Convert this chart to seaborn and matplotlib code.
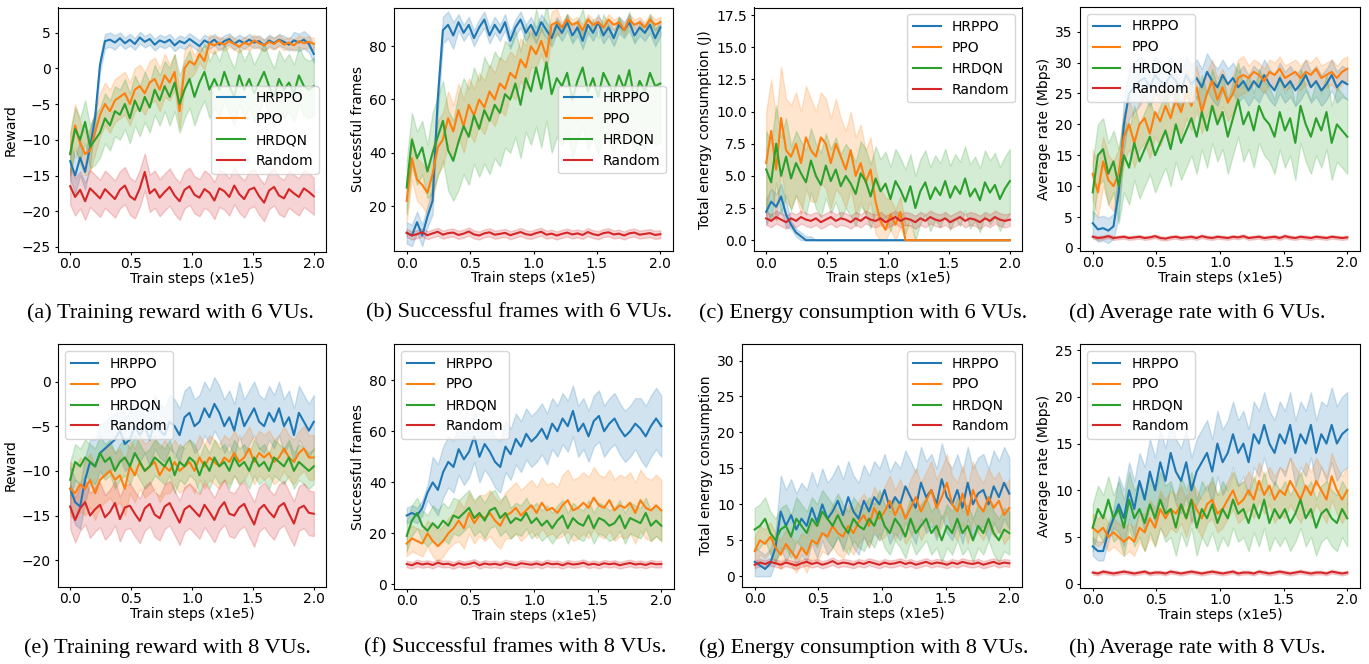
import numpy as np
import pandas as pd
import matplotlib.pyplot as plt
import seaborn as sns

# training steps (x1e5), 50 logged points per curve
steps = np.linspace(0, 2, 50)
algos = ['HRPPO', 'PPO', 'HRDQN', 'Random']
colors = sns.color_palette('tab10', 4)

# ---------------- (a) training reward, 6 VUs ----------------
a_hrppo = [-13, -15, -12.5, -14.5, -11, -7, 0.5, 3.8, 4.0, 3.6,
           4.2, 3.5, 4.0, 3.4, 4.3, 3.7, 4.1, 3.3, 3.9, 3.6,
           4.0, 3.2, 3.8, 3.5, 4.1, 3.6, 3.1, 3.9, 3.5, 4.0,
           3.3, 3.8, 4.1, 3.4, 3.9, 3.5, 4.0, 3.6, 3.8, 3.2,
           3.9, 3.5, 4.0, 3.7, 3.3, 3.9, 3.6, 4.0, 3.4, 2.0]
a_ppo = [-12, -8, -10.5, -12, -11.5, -9, -6.5, -5, -6, -4.5,
         -4, -3.5, -5, -3, -2.5, -3.5, -2, -1.5, -3, -1,
         -2, -0.5, -6, 0, 1, 0.5, 2, 1, 3.5, 3.2,
         3.6, 3.3, 3.8, 3.4, 3.0, 3.6, 3.3, 3.9, 3.5, 3.2,
         3.7, 3.4, 3.9, 3.3, 3.6, 3.2, 3.8, 3.5, 3.7, 3.4]
a_hrdqn = [-12, -8.5, -10, -7.5, -11, -10, -9, -7, -8, -6,
           -6.5, -5, -7, -4.5, -6, -4, -5.5, -3, -4.5, -2.5,
           -4, -2, -5, -3, -1.5, -4, -2, -0.5, -3, -1.5,
           -3, -0.5, -2.5, -4, -1, -3, -1.5, -3.5, -2, -0.5,
           -2.5, -4, -1.5, -3, -2, -3.5, -1, -2.5, -3, -2.5]
a_random = [-16.5, -18.0, -17.0, -18.6, -16.8, -17.5, -18.2, -16.9, -17.6, -18.3,
            -17.0, -16.4, -17.9, -18.4, -16.8, -14.5, -17.5, -16.9, -18.1, -17.3,
            -16.6, -17.8, -18.6, -17.0, -16.5, -17.7, -18.1, -16.9, -17.4, -18.5,
            -16.8, -17.2, -18.0, -16.4, -17.6, -18.3, -17.0, -16.7, -17.9, -18.8,
            -17.1, -16.6, -17.8, -18.2, -16.9, -17.5, -18.0, -16.8, -17.3, -17.9]
a_spread = [[2.5, 1.0, 0.8, 0.8, 0.8, 0.8, 0.8, 0.8, 0.8, 1.2],
            [3, 3, 3, 3, 2.5, 1.2, 0.8, 0.8, 0.8, 0.8],
            [3, 3.5, 3.5, 3.5, 4, 4, 4, 4, 4, 4],
            [2.6] * 10]

# ---------------- (b) successful frames, 6 VUs ----------------
b_hrppo = [10, 9, 14, 9, 16, 22, 60, 86, 88, 84,
           89, 85, 88, 83, 87, 90, 84, 88, 85, 89,
           82, 87, 90, 85, 88, 84, 89, 86, 83, 88,
           85, 89, 84, 87, 82, 88, 85, 89, 84, 87,
           83, 88, 86, 89, 84, 87, 85, 88, 83, 87]
b_ppo = [22, 38, 30, 28, 25, 32, 42, 45, 53, 48,
         56, 50, 58, 54, 60, 57, 63, 60, 66, 64,
         70, 68, 75, 72, 80, 77, 82, 76, 88, 89,
         87, 90, 88, 89, 86, 90, 88, 89, 87, 90,
         88, 89, 86, 90, 88, 89, 87, 90, 88, 89]
b_hrdqn = [27, 45, 38, 42, 33, 40, 46, 52, 41, 37,
           44, 50, 46, 54, 49, 56, 52, 58, 55, 62,
           60, 66, 58, 68, 63, 72, 64, 74, 62, 68,
           65, 70, 60, 67, 72, 63, 68, 61, 70, 66,
           62, 69, 64, 71, 60, 67, 63, 70, 65, 66]
b_random = [10.0, 9.0, 9.5, 10.2, 9.1, 9.8, 10.4, 9.3, 9.9, 10.1,
            9.2, 9.7, 10.5, 9.4, 9.0, 9.8, 10.2, 9.3, 9.6, 10.0,
            9.1, 9.7, 10.3, 9.5, 9.2, 9.9, 10.4, 9.3, 9.7, 9.0,
            9.6, 10.1, 9.4, 9.8, 9.2, 10.3, 9.5, 9.1, 9.9, 10.2,
            9.4, 9.7, 9.0, 9.8, 10.1, 9.3, 9.6, 9.9, 9.2, 9.5]
b_spread = [[4, 5, 3, 3, 3, 3, 3, 3, 3, 3],
            [8, 10, 10, 10, 8, 5, 2, 2, 2, 2],
            [10, 15, 18, 20, 20, 22, 22, 22, 22, 22],
            [1.5] * 10]

# ---------------- (c) energy consumption, 6 VUs ----------------
c_hrppo = [2.2, 3.0, 2.6, 3.4, 2.0, 1.2, 0.6, 0.3, 0, 0,
           0, 0, 0, 0, 0, 0, 0, 0, 0, 0,
           0, 0, 0, 0, 0, 0, 0, 0, 0, 0,
           0, 0, 0, 0, 0, 0, 0, 0, 0, 0,
           0, 0, 0, 0, 0, 0, 0, 0, 0, 0]
c_ppo = [6, 8.5, 5.5, 9.5, 7, 6.5, 7.5, 6, 8, 7,
         6.5, 8, 7.5, 6, 7.5, 6.5, 5.5, 7, 5, 6,
         4.5, 5.5, 3, 1.5, 0.8, 2, 1.2, 2.2, 0, 0,
         0, 0, 0, 0, 0, 0, 0, 0, 0, 0,
         0, 0, 0, 0, 0, 0, 0, 0, 0, 0]
c_hrdqn = [5.5, 4.5, 7.5, 5, 6.5, 4.8, 6, 5.2, 4.5, 6.2,
           5, 4.3, 5.8, 4.6, 5.5, 4.2, 5, 4.4, 3.6, 5.2,
           4.6, 3.4, 4.8, 3.8, 4.4, 3.2, 4.6, 3.9, 3.0, 4.2,
           2.5, 3.8, 4.5, 3.2, 4.1, 3.5, 4.6, 3.3, 4.2, 3.6,
           4.8, 3.4, 4.0, 3.1, 4.5, 3.7, 4.3, 3.2, 4.0, 4.6]
c_random = [1.7, 1.5, 1.8, 1.6, 1.4, 1.7, 1.5, 1.8, 1.6, 1.5,
            1.7, 1.4, 1.6, 1.8, 1.5, 1.7, 1.6, 1.4, 1.7, 1.5,
            1.8, 1.6, 1.5, 1.7, 1.4, 1.6, 1.8, 1.5, 1.7, 1.6,
            1.4, 1.7, 1.5, 1.8, 1.6, 1.5, 1.7, 1.4, 1.6, 1.8,
            1.5, 1.7, 1.6, 1.4, 1.7, 1.5, 1.8, 1.6, 1.5, 1.6]
c_spread = [[1.0, 0.3, 0, 0, 0, 0, 0, 0, 0, 0],
            [4, 4, 3.5, 3, 2.5, 1.2, 0, 0, 0, 0],
            [3, 2.5, 2.5, 2.5, 2.5, 2.5, 2.5, 2.5, 2.5, 2.5],
            [0.5] * 10]

# ---------------- (d) average rate, 6 VUs ----------------
d_hrppo = [4, 3, 3.2, 2.8, 3.5, 9, 20, 25, 26, 27,
           27.5, 26, 28, 27, 26.5, 28, 27, 25.5, 28, 26.5,
           27.5, 26, 28.5, 27, 26, 28, 26.5, 27.5, 26, 27,
           25.5, 27, 26, 28, 26.5, 25.5, 27.5, 26, 27, 25.5,
           26.5, 28, 26, 27, 25.5, 26.5, 28, 26, 27, 26.5]
d_ppo = [12, 9, 14, 11, 10, 12, 18, 20, 17, 20,
         21, 18.5, 22, 20.5, 23, 21, 24, 22, 25, 23,
         26, 22, 25, 27, 24, 26, 23.5, 25, 27.5, 28,
         27.5, 28.5, 28, 27, 28.5, 28, 29, 27.5, 28, 28.5,
         27.5, 28.5, 28, 29, 27.5, 28, 28.5, 27.5, 28.5, 29]
d_hrdqn = [9, 15, 16, 12, 14, 10, 15, 13, 17, 14,
           16, 18, 15, 17, 19, 16, 20, 17, 19, 21,
           18, 22, 19, 23, 20, 22, 18, 21, 24, 20,
           22, 19, 23, 21, 20, 18, 22, 19, 21, 17,
           23, 20, 18, 21, 19, 22, 17, 20, 19, 18]
d_random = [1.8, 1.6, 1.7, 1.9, 1.6, 1.7, 1.8, 1.6, 1.7, 1.8,
            1.6, 1.7, 1.9, 1.6, 1.5, 1.7, 1.8, 1.6, 1.7, 1.8,
            1.6, 1.9, 1.7, 1.6, 1.8, 1.7, 1.6, 1.8, 1.7, 1.9,
            1.6, 1.7, 1.8, 1.6, 1.7, 1.8, 1.6, 1.9, 1.7, 1.6,
            1.8, 1.7, 1.6, 1.8, 1.7, 1.6, 1.8, 1.7, 1.6, 1.7]
d_spread = [[2, 4, 3, 3, 3, 2.5, 2.5, 2.5, 2.5, 2.5],
            [4, 4, 4, 4, 3.5, 3, 2, 2, 2, 2],
            [5, 6, 6, 6, 6, 6, 6, 6, 6, 6],
            [0.3] * 10]

# ---------------- (e) training reward, 8 VUs ----------------
e_hrppo = [-12, -13.5, -14, -11, -9, -9.5, -8, -7.5, -7, -6.5,
           -5.5, -7, -6.5, -5, -6, -5, -6.5, -4.5, -5.5, -6,
           -4.5, -5, -6, -4, -3.5, -5, -4.5, -3, -4, -2.5,
           -3.5, -5, -4, -5.5, -3, -5, -4, -3, -4.5, -5,
           -3.5, -4.5, -3, -5, -4, -6, -3.5, -4.5, -5.5, -4.5]
e_ppo = [-12, -12.5, -11.5, -12, -11, -12.5, -11, -10.5, -10, -11,
         -10.5, -12, -9.5, -10.5, -9, -10, -9.5, -9, -10.5, -9.5,
         -10, -9, -10, -9.5, -9, -10, -8.5, -9.5, -8.5, -9,
         -9.5, -8.5, -9, -8, -9, -8.5, -7.5, -9, -8, -8.5,
         -8, -9, -8.5, -7.5, -8.5, -9, -8, -7.5, -8.5, -8.5]
e_hrdqn = [-11, -9, -9.5, -8.5, -9, -9.5, -8, -9, -8.5, -10,
           -9, -8.5, -9.5, -8, -9, -10, -9.5, -8.5, -9, -9.5,
           -8.5, -10.5, -9, -9.5, -8.5, -9, -10.5, -9, -10, -8.5,
           -9.5, -9, -10, -8.5, -9.5, -9, -10, -8.5, -9.5, -9,
           -10, -8.5, -9, -9.5, -8.5, -10, -9, -9.5, -10, -9.5]
e_random = [-14.0, -15.5, -14.2, -13.5, -15.0, -14.3, -13.8, -15.2, -14.6, -13.6,
            -15.4, -14.1, -13.9, -14.8, -15.6, -14.2, -13.7, -14.9, -15.3, -14.0,
            -13.6, -14.7, -15.8, -14.3, -13.9, -14.5, -15.1, -13.8, -14.6, -15.5,
            -14.2, -13.5, -14.8, -15.0, -14.1, -13.7, -14.9, -16.0, -14.3, -13.8,
            -14.6, -15.2, -14.0, -13.6, -14.8, -15.9, -14.2, -13.9, -14.7, -14.8]
e_spread = [[2.5, 3, 3, 3, 3, 3, 3, 3, 3, 3],
            [3, 3, 3, 3, 2.5, 2.5, 2.5, 2.5, 2.5, 2.5],
            [2] * 10,
            [2.5] * 10]

# ---------------- (f) successful frames, 8 VUs ----------------
f_hrppo = [27, 28, 27, 30, 36, 40, 37, 44, 48, 46,
           53, 49, 52, 58, 50, 55, 52, 48, 46, 54,
           51, 57, 54, 59, 56, 58, 61, 57, 63, 60,
           65, 62, 68, 60, 63, 58, 64, 66, 60, 63,
           65, 61, 58, 60, 63, 61, 58, 62, 65, 62]
f_ppo = [16, 18, 17, 16, 20, 17, 15, 17, 20, 22,
         25, 22, 28, 24, 27, 26, 28, 25, 23, 27,
         28, 30, 27, 29, 31, 28, 32, 29, 30, 28,
         31, 33, 29, 30, 32, 30, 34, 31, 30, 33,
         29, 31, 30, 32, 28, 33, 30, 29, 31, 29]
f_hrdqn = [19, 25, 28, 23, 21, 24, 22, 25, 23, 27,
           26, 28, 30, 26, 28, 25, 29, 30, 26, 28,
           24, 26, 25, 28, 24, 26, 23, 25, 22, 25,
           27, 22, 26, 24, 23, 27, 22, 26, 25, 23,
           24, 27, 22, 26, 25, 24, 28, 23, 25, 23]
f_random = [8.0, 7.5, 8.4, 7.8, 8.2, 7.6, 8.5, 7.9, 8.1, 7.4,
            8.3, 7.7, 8.0, 8.6, 7.5, 8.2, 7.8, 8.1, 7.6, 8.4,
            7.9, 7.5, 8.3, 8.0, 7.7, 8.2, 7.6, 8.4, 7.9, 8.1,
            7.5, 8.3, 7.8, 8.0, 8.5, 7.7, 8.1, 7.6, 8.3, 7.9,
            8.2, 7.5, 8.0, 8.4, 7.8, 8.1, 7.6, 8.3, 7.9, 8.0]
f_spread = [[3, 10, 10, 10, 10, 10, 10, 10, 10, 12],
            [5, 6, 8, 9, 10, 10, 12, 12, 12, 12],
            [6, 7, 7, 7, 6, 6, 6, 6, 6, 6],
            [1.3] * 10]

# ---------------- (g) energy consumption, 8 VUs ----------------
g_hrppo = [2, 1.5, 1, 1.8, 4, 9, 7, 8.5, 6.5, 8,
           7, 9.5, 7.5, 10, 8, 9, 10.5, 8.5, 11, 9,
           8, 10.5, 9, 11, 10, 12, 9.5, 11, 10, 12.5,
           11, 9.5, 13, 11, 12, 10, 13.5, 11, 10, 12,
           9.5, 13, 10, 11.5, 12, 10, 12.5, 11, 13, 11.5]
g_ppo = [3.5, 5, 4.5, 5.5, 4, 3, 4.5, 3.5, 2.5, 4,
         3, 5, 4.5, 6, 5.5, 7, 6, 5.5, 7, 6,
         7.5, 8.5, 7, 9.5, 8, 9, 10.5, 8.5, 10, 8,
         9.5, 11, 9, 10.5, 12, 9.5, 11, 13, 10, 9,
         11.5, 8.5, 12, 10, 9, 11, 9.5, 10.5, 8.5, 9.5]
g_hrdqn = [6.5, 7, 8, 6, 5, 6.5, 7, 5.5, 8, 7,
           6, 8, 7, 9, 8, 7, 8.5, 7, 6, 8,
           7, 6.5, 8, 7, 9, 7, 6, 8, 7, 5.5,
           8, 6, 7, 8, 6, 7, 5, 7, 6, 8,
           6, 7, 5, 7, 6, 8, 6, 5, 6.5, 6]
g_random = [1.6, 1.9, 1.7, 2.0, 1.8, 1.6, 1.9, 1.7, 1.5, 1.8,
            2.0, 1.7, 1.9, 1.6, 1.8, 2.1, 1.7, 1.9, 1.8, 1.6,
            1.9, 1.7, 2.0, 1.8, 1.6, 1.9, 1.7, 1.8, 2.0, 1.7,
            1.9, 1.6, 1.8, 2.0, 1.7, 1.9, 1.8, 1.6, 1.9, 1.7,
            2.0, 1.8, 1.7, 1.9, 1.6, 1.8, 2.0, 1.7, 1.9, 1.8]
g_spread = [[2, 5, 5, 5, 5, 5, 5, 5, 5, 5],
            [2, 2, 2.5, 3, 3, 3.5, 4, 4, 4, 4],
            [3] * 10,
            [0.5] * 10]

# ---------------- (h) average rate, 8 VUs ----------------
h_hrppo = [4, 3.5, 3.5, 5.5, 7, 8.5, 7, 10, 8, 11,
           9, 12, 10, 13, 11, 14, 12, 11, 13, 10,
           12, 13, 14, 12, 15, 13, 14, 16, 14, 15,
           13, 16, 15, 17, 15, 14, 16, 15, 17, 14,
           16, 15, 17, 14, 16, 15, 17, 15, 16, 16.5]
h_ppo = [6, 5.5, 6, 5, 5.5, 5, 4.5, 5, 4.5, 6,
         5.5, 7, 6, 8, 7, 8, 7.5, 8.5, 7, 9,
         8, 7, 8.5, 9, 7.5, 8, 9, 10, 8.5, 9,
         10, 9, 11, 9.5, 10.5, 9, 10, 9.5, 11, 10,
         9, 10.5, 9.5, 11, 10, 9, 11.5, 10, 9, 10]
h_hrdqn = [6, 8, 7, 9, 7, 8, 6, 9, 7, 8,
           6.5, 8.5, 7, 9, 7.5, 8, 6, 8.5, 7, 9,
           6, 8, 7, 8.5, 6.5, 8, 7, 9, 7.5, 8,
           6.5, 8.5, 7, 9, 6.5, 8, 7, 8, 6.5, 7.5,
           9, 7, 8, 6, 7.5, 8, 7, 6.5, 8, 7]
h_random = [1.2, 1.1, 1.3, 1.2, 1.1, 1.2, 1.3, 1.2, 1.1, 1.2,
            1.3, 1.1, 1.2, 1.2, 1.1, 1.3, 1.2, 1.1, 1.2, 1.3,
            1.2, 1.1, 1.2, 1.3, 1.2, 1.1, 1.2, 1.3, 1.1, 1.2,
            1.2, 1.1, 1.3, 1.2, 1.1, 1.2, 1.3, 1.2, 1.1, 1.2,
            1.3, 1.2, 1.1, 1.2, 1.2, 1.1, 1.3, 1.2, 1.1, 1.2]
h_spread = [[1, 3, 3.5, 3.5, 3.5, 3.5, 3.5, 3.5, 3.5, 4],
            [1.5, 1.5, 2, 2, 2, 2, 2, 2.5, 2.5, 2.5],
            [2.5, 3, 3, 3, 3, 3, 3, 3, 3, 3],
            [0.2] * 10]

W, H = 1369, 664
fig = plt.figure(figsize=(W / 100, H / 100), dpi=100)


def add_ax(left, top, right, bottom):
    # pixel box -> figure fraction
    return fig.add_axes([left / W, 1 - bottom / H, (right - left) / W, (bottom - top) / H])


def draw(ax, curves, spread, floor, ylabel, ylim, yticks, loc):
    frames = []
    for name, vals, sd in zip(algos, curves, spread):
        vals = np.asarray(vals, dtype=float)
        sd = np.repeat(sd, 5)
        lo = vals - sd
        if floor is not None:
            lo = np.maximum(lo, floor)
        for v in (lo, vals, vals + sd):
            frames.append(pd.DataFrame({'step': steps, 'value': v, 'algo': name}))
    df = pd.concat(frames, ignore_index=True)
    sns.lineplot(data=df, x='step', y='value', hue='algo', hue_order=algos,
                 palette=colors, estimator='median', errorbar=('pi', 100),
                 linewidth=1.5, ax=ax)
    ax.set_xlim(-0.1, 2.1)
    ax.set_xticks([0, 0.5, 1.0, 1.5, 2.0])
    ax.set_ylim(*ylim)
    ax.set_yticks(yticks)
    ax.tick_params(labelsize=10, length=2.2)
    ax.tick_params(axis='x', pad=1.5)
    ax.tick_params(axis='y', pad=3)
    ax.set_xlabel('Train steps (x1e5)', fontsize=10, labelpad=0.5)
    ax.set_ylabel(ylabel, fontsize=10, labelpad=3)
    sns.move_legend(ax, loc, title=None, fontsize=10)


ax_a = add_ax(58, 7.5, 326, 252)
draw(ax_a, [a_hrppo, a_ppo, a_hrdqn, a_random], a_spread, None, 'Reward',
     (-25.7, 8.5), np.arange(-25, 6, 5), 'center right')
ax_b = add_ax(394, 7.5, 673, 251.5)
draw(ax_b, [b_hrppo, b_ppo, b_hrdqn, b_random], b_spread, 0, 'Successful frames',
     (3, 94.5), [20, 40, 60, 80], 'center right')
ax_c = add_ax(754, 7.5, 1022, 251.5)
draw(ax_c, [c_hrppo, c_ppo, c_hrdqn, c_random], c_spread, 0, 'Total energy consumption (J)',
     (-0.88, 18.1), np.arange(0, 18, 2.5), 'upper right')
ax_d = add_ax(1080, 7, 1360, 251)
draw(ax_d, [d_hrppo, d_ppo, d_hrdqn, d_random], d_spread, 0, 'Average rate (Mbps)',
     (-0.5, 39), np.arange(0, 36, 5), 'upper left')
ax_e = add_ax(58, 344, 326, 587)
draw(ax_e, [e_hrppo, e_ppo, e_hrdqn, e_random], e_spread, None, 'Reward',
     (-23, 4.2), [-20, -15, -10, -5, 0], 'upper left')
ax_f = add_ax(394, 344, 674, 589)
draw(ax_f, [f_hrppo, f_ppo, f_hrdqn, f_random], f_spread, 0, 'Successful frames',
     (-1.8, 94.2), np.arange(0, 81, 20), 'upper left')
ax_g = add_ax(742, 344, 1022, 587)
draw(ax_g, [g_hrppo, g_ppo, g_hrdqn, g_random], g_spread, 0, 'Total energy consumption',
     (-1.5, 32.3), np.arange(0, 31, 5), 'upper right')
ax_h = add_ax(1080, 344, 1360, 588)
draw(ax_h, [h_hrppo, h_ppo, h_hrdqn, h_random], h_spread, 0, 'Average rate (Mbps)',
     (-0.45, 25.65), np.arange(0, 26, 5), 'upper left')

captions = [
    (170, 313, '(a) Training reward with 6 VUs.'),
    (519, 313, '(b) Successful frames with 6 VUs.'),
    (863, 313, '(c) Energy consumption with 6 VUs.'),
    (1197, 313, '(d) Average rate with 6 VUs.'),
    (167, 648, '(e) Training reward with 8 VUs.'),
    (515, 648, '(f) Successful frames with 8 VUs.'),
    (864, 648, '(g) Energy consumption with 8 VUs.'),
    (1197, 648, '(h) Average rate with 8 VUs.'),
]
for cx, cy, txt in captions:
    fig.text(cx / W, 1 - cy / H, txt, ha='center', va='center',
             family='Liberation Serif', fontsize=16)

fig.savefig('out.png', dpi=100)
